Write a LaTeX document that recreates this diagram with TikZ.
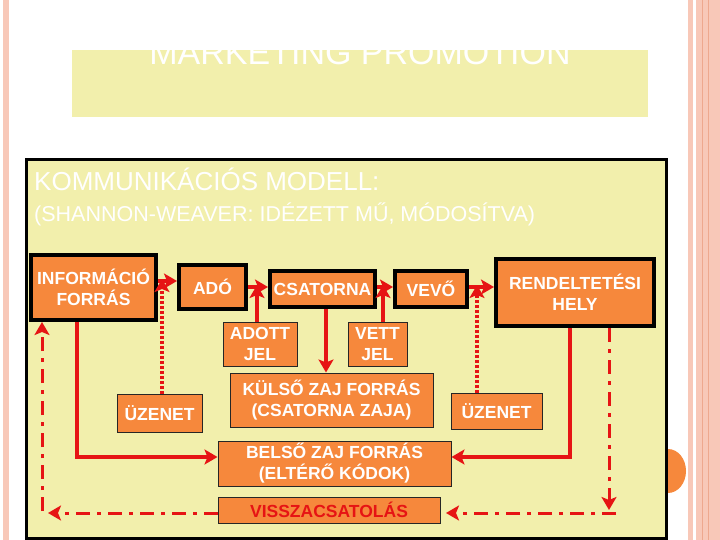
\documentclass[tikz,border=0pt]{standalone}
\usepackage{fontspec}
\setmainfont{Liberation Sans}
\usetikzlibrary{arrows.meta}
\definecolor{salmon}{RGB}{248,200,184}
\definecolor{salmondk}{RGB}{238,168,142}
\definecolor{paneyel}{RGB}{242,239,172}
\definecolor{boxor}{RGB}{246,136,60}
\definecolor{conred}{RGB}{230,20,20}
\begin{document}
\begin{tikzpicture}[x=1pt,y=-1pt,
  boxtext/.style={text=white,font=\bfseries\fontsize{17.5}{21}\selectfont,align=center,inner sep=0pt,fill=boxor},
  thickbox/.style={boxtext,draw=black,line width=4pt},
  thinbox/.style={boxtext,draw=black!85,line width=1pt},
  conn/.style={draw=conred,line width=3.5pt},
  tip/.style={-{Stealth[length=13pt,width=15pt,inset=3pt]}},
  dotln/.style={conn,line width=3.5pt,dash pattern=on 3pt off 2pt},
  dashdot/.style={conn,line width=3pt,dash pattern=on 14pt off 7pt on 4pt off 7pt},
]
\useasboundingbox (0,0) rectangle (720,540);
\fill[white] (0,0) rectangle (720,540);
% side stripes
\fill[salmon] (3,0) rectangle (9,540);
\fill[salmon] (688,0) rectangle (693,540);
\fill[salmon] (696,0) rectangle (720,540);
\fill[salmondk] (701.5,0) rectangle (703,540);
\fill[salmondk] (707.5,0) rectangle (709,540);
% title
\fill[paneyel] (72,50) rectangle (648,117);
\node[anchor=base,text=white,inner sep=0pt,font=\fontsize{34}{40}\selectfont] (title) at (360,65) {MARKETING PROMOTION};
% orange half circle
\fill[boxor] (668,471) ellipse [x radius=18pt, y radius=22pt];
% panel
\draw[fill=paneyel,line width=3pt] (26.5,159.5) rectangle (666.5,538.5);
\node[anchor=base west,text=white,inner sep=0pt,font=\fontsize{26}{30}\selectfont] (h1) at (34,191) {KOMMUNIKÁCIÓS MODELL:};
\node[anchor=base west,text=white,inner sep=0pt,font=\fontsize{21.5}{26}\selectfont] (h2) at (34,222) {(SHANNON-WEAVER: IDÉZETT MŰ, MÓDOSÍTVA)};
% boxes
\node[thickbox,minimum width=125pt,minimum height=65pt] (INFO) at (93.5,287.5) {INFORMÁCIÓ\\FORRÁS};
\node[thickbox,minimum width=67pt,minimum height=44pt] (ADO) at (212.5,287) {ADÓ};
\node[thickbox,minimum width=105pt,minimum height=36pt] (CSAT) at (322.5,289) {CSATORNA};
\node[thickbox,minimum width=72pt,minimum height=36pt] (VEVO) at (431,289) {VEVŐ};
\node[thickbox,minimum width=158pt,minimum height=67pt] (REND) at (575,292.5) {RENDELTETÉSI\\HELY};
\node[thinbox,minimum width=74pt,minimum height=44pt] (ADJ) at (260,344) {ADOTT\\JEL};
\node[thinbox,minimum width=59pt,minimum height=44pt] (VEJ) at (377.5,344) {VETT\\JEL};
\node[thinbox,minimum width=203pt,minimum height=54pt] (KUL) at (331.5,400) {KÜLSŐ ZAJ FORRÁS\\(CSATORNA ZAJA)};
\node[thinbox,minimum width=85pt,minimum height=38pt] (UZL) at (159.5,413) {ÜZENET};
\node[thinbox,minimum width=91pt,minimum height=36pt] (UZR) at (496.5,411) {ÜZENET};
\node[thinbox,minimum width=233pt,minimum height=45pt] (BEL) at (334.5,463.5) {BELSŐ ZAJ FORRÁS\\(ELTÉRŐ KÓDOK)};
\node[thinbox,minimum width=222pt,minimum height=26pt,text=conred] (VIS) at (329,510) {VISSZACSATOLÁS};
% main chain
\coordinate (j1) at (162,281);
\coordinate (t1) at (162,279);
\draw[conn,tip] (INFO.east |- j1) -- (ADO.west |- j1);
\draw[dotln,tip] (UZL.north -| j1) -- (t1);
\coordinate (j2) at (257,287);
\coordinate (t2) at (257,285);
\draw[conn,tip] (ADO.east |- j2) -- (CSAT.west |- j2);
\draw[conn,tip] (ADJ.north -| j2) -- (t2);
\coordinate (j3) at (383,287);
\coordinate (t3) at (383,285);
\draw[conn,tip] (CSAT.east |- j3) -- (VEVO.west |- j3);
\draw[conn,tip] (VEJ.north -| j3) -- (t3);
\coordinate (j4) at (477,287);
\coordinate (t4) at (477,285);
\draw[conn,tip] (VEVO.east |- j4) -- (REND.west |- j4);
\draw[dotln,tip] (UZR.north -| j4) -- (t4);
\coordinate (c1) at (326,0);
\draw[conn,tip] (CSAT.south -| c1) -- (KUL.north -| c1);
% inner noise lines
\coordinate (b1) at (77,457);
\draw[conn,tip] (INFO.south -| b1) -- (b1) -- (BEL.west |- b1);
\coordinate (b2) at (570,457);
\draw[conn,tip] (REND.south -| b2) -- (b2) -- (BEL.east |- b2);
% feedback
\coordinate (f1) at (609,510);
\draw[dashdot,tip] (REND.south -| f1) -- (f1);
\coordinate (f2) at (446,513);
\coordinate (f3) at (616,513);
\draw[dashdot,tip] (f3) -- (f2);
\coordinate (f4) at (48,513);
\draw[dashdot,tip] (VIS.west |- f4) -- (f4);
\coordinate (f5) at (42,511);
\draw[dashdot,tip] (f5) -- (INFO.south -| f5);
\end{tikzpicture}
\end{document}
